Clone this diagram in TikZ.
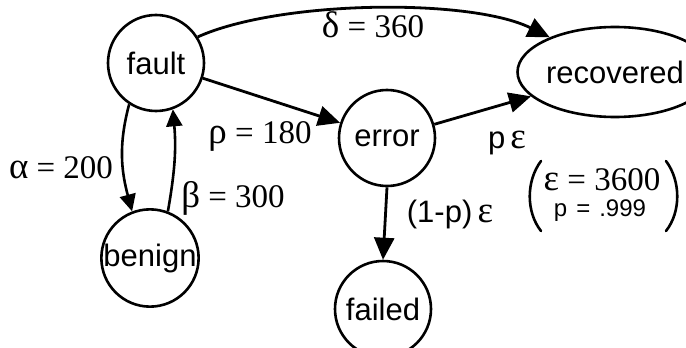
\documentclass[tikz,border=0pt]{standalone}
\usepackage{fontspec}
\setmainfont{Liberation Sans}
\newfontfamily\serifgk{Liberation Serif}
\newcommand{\gk}[1]{{\serifgk\fontsize{37}{37}\selectfont #1}}
\usetikzlibrary{arrows.meta,shapes.geometric}
\begin{document}
\begin{tikzpicture}[x=1pt,y=-1pt,
 state/.style={circle,draw,line width=2.6pt,minimum size=96pt,inner sep=0pt,font=\fontsize{31}{33}\selectfont},
 edge/.style={line width=2.8pt,-{Triangle[length=22pt,width=20pt]}},
 sedge/.style={line width=2.6pt,-{Triangle[length=17pt,width=16pt]}},
 lab/.style={font=\serifgk\fontsize{33}{35}\selectfont,inner sep=0pt},
 slab/.style={font=\fontsize{31}{33}\selectfont,inner sep=0pt},
 paren/.style={line width=2.6pt,line cap=round}]
\useasboundingbox (0,0) rectangle (686,348);
\node[state] (fault) at (156,63) {fault};
\node[state] (benign) at (150,258) {benign};
\node[state] (error) at (387,138) {error};
\node[state] (failed) at (383,309) {failed};
\node[ellipse,draw,line width=2.6pt,minimum width=138pt,minimum height=90pt,inner sep=0pt,font=\fontsize{31}{33}\selectfont] (recovered) at (615,72) {recovered};

\draw[edge] (fault.32) .. controls (280,0) and (470,-2) .. (recovered.152);
\draw[edge] (fault) -- (error);
\draw[edge] (error) -- (recovered);
\draw[edge] (error.south) -- (failed.north);
\draw[sedge] (fault.237) to[out=255,in=105] (benign.111);
\draw[sedge] (benign.69) to[out=80,in=-85] (fault.290);

\node[lab,anchor=base] (ld) at (373,37) {\gk{δ} = 360};
\node[lab,anchor=base] (lr) at (260,143) {\gk{ρ} = 180};
\node[lab,anchor=base] (la) at (61,178) {\gk{α} = 200};
\node[lab,anchor=base] (lb) at (233,207) {\gk{β} = 300};
\node[slab,anchor=base] (lpe) at (507,148) {p\,\gk{ε}};
\node[slab,anchor=base] (l1p) at (450,222) {(1-p)\,\gk{ε}};
\node[lab,anchor=base,text depth=0pt] (le) at (602,190) {\gk{ε} = 3600};
\node[font=\fontsize{24}{26}\selectfont,inner sep=0pt,anchor=base,text height=17pt] (lp) at (600,216) {p\hspace{9pt}=\hspace{9pt}.999};
\draw[paren] (541,161) .. controls (526,181) and (526,212) .. (541,231);
\draw[paren] (666,161) .. controls (681,181) and (681,212) .. (666,231);
\end{tikzpicture}
\end{document}
